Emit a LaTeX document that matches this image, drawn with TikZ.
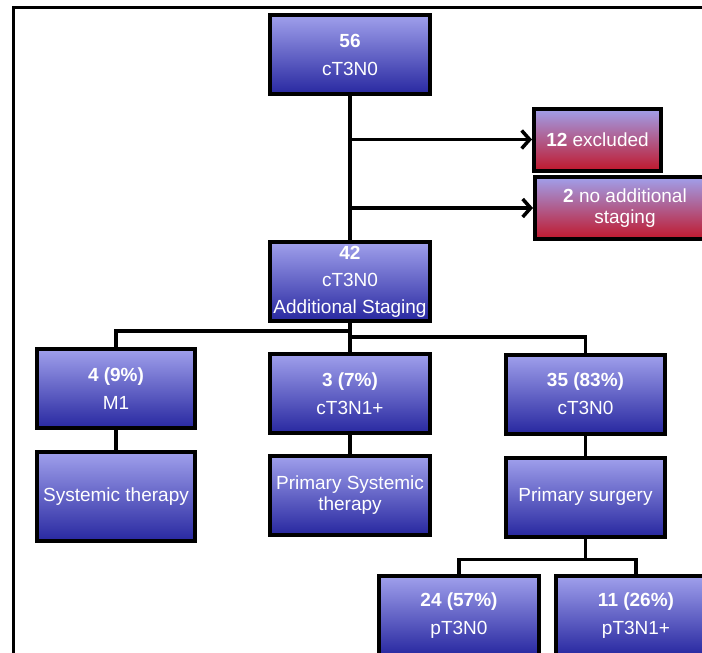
\documentclass[tikz,border=0pt]{standalone}
\usepackage{fontspec}
\setmainfont{Liberation Sans}
\usetikzlibrary{arrows.meta}
\definecolor{boxtop}{RGB}{160,160,236}
\definecolor{boxbot}{RGB}{40,40,160}
\definecolor{redbot}{RGB}{192,24,44}

\begin{document}
\begin{tikzpicture}[x=1pt,y=-1pt,
  box/.style={draw=black,line width=4pt,top color=boxtop,bottom color=boxbot,
    text=white,align=center,inner sep=1pt,font=\fontsize{19}{21}\selectfont,
    minimum width=160pt,minimum height=79pt},
  redbox/.style={box,bottom color=redbot,minimum height=62pt},
  conn/.style={line width=3.5pt},
  arr/.style={conn,-{Straight Barb[length=8pt,width=18pt]}}]

\useasboundingbox (0,0) rectangle (702,653);
\clip (0,0) rectangle (702,653);
\draw[line width=3pt] (13,656) -- (13,7) -- (705,7);

\node[box] (n56) at (350,54.5) {\textbf{56}\\[7pt]cT3N0};
\node[redbox,minimum width=127pt] (excl) at (597.5,139.5) {\textbf{12} excluded};
\node[redbox,minimum width=180pt] (nostag) at (625,208) {\textbf{2} no additional\\staging};
\node[box] (n42) at (350,281.5) {\textbf{42}\\[6pt]cT3N0\\[6pt]Additional Staging};

\node[box,minimum width=158pt] (m1) at (116,388.5) {\textbf{4 (9\%)}\\[7pt]M1};
\node[box,minimum width=158pt,minimum height=89pt] (syst) at (116,496.5) {Systemic therapy};
\node[box] (n1) at (350,393.5) {\textbf{3 (7\%)}\\[7pt]cT3N1+};
\node[box] (pst) at (350,495) {Primary Systemic\\therapy};
\node[box,minimum width=159pt] (n0) at (585.5,394) {\textbf{35 (83\%)}\\[7pt]cT3N0};
\node[box,minimum width=159pt] (surg) at (585.5,497) {Primary surgery};

\node[box] (p0) at (459,615.5) {\textbf{24 (57\%)}\\[7pt]pT3N0};
\node[box] (p1) at (636,615.5) {\textbf{11 (26\%)}\\[7pt]pT3N1+};

\draw[conn] (n56) -- (n42);
\draw[arr] (n56.south |- excl.west) -- (excl.west);
\draw[arr] (n56.south |- nostag.west) -- (nostag.west);

\draw[conn] (n42.south) -- ++(0,8) -| (m1.north);
\draw[conn] (n42) -- (n1);
\draw[conn] (n42.south) -- ++(0,14) -| (n0.north);

\draw[conn] (m1) -- (syst);
\draw[conn] (n1) -- (pst);
\draw[conn] (n0) -- (surg);

\draw[conn] (surg.south) -- ++(0,21) -| (p0.north);
\draw[conn] (surg.south) -- ++(0,21) -| (p1.north);
\end{tikzpicture}
\end{document}
